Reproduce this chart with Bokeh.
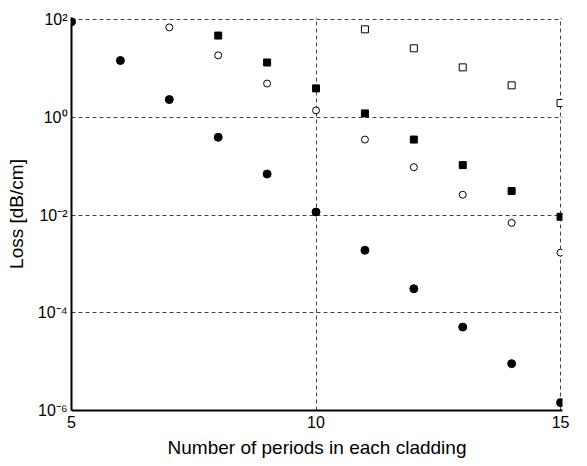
from bokeh.plotting import figure
from bokeh.models import FixedTicker
from bokeh.embed import file_html
from bokeh.resources import INLINE

# Data
periods_filled_circle = [5, 6, 7, 8, 9, 10, 11, 12, 13, 14, 15]
loss_filled_circle = [90, 14.5, 2.3, 0.39, 0.069, 0.0115, 0.0019, 3.1e-4, 5.1e-5, 9.1e-6, 1.45e-6]

periods_open_circle = [7, 8, 9, 10, 11, 12, 13, 14, 15]
loss_open_circle = [69, 18.5, 4.9, 1.38, 0.35, 0.095, 0.026, 0.0069, 0.0017]

periods_filled_square = [8, 9, 10, 11, 12, 13, 14, 15]
loss_filled_square = [47, 13.2, 3.9, 1.2, 0.35, 0.105, 0.031, 0.0092]

periods_open_square = [11, 12, 13, 14, 15]
loss_open_square = [63, 25.8, 10.5, 4.5, 1.95]

x_ticks = [5, 10, 15]
x_grid_ticks = [10, 15]
y_ticks = [1e-6, 1e-4, 1e-2, 1, 1e2]
y_grid_ticks = [1e-4, 1e-2, 1, 1e2]
y_tick_labels = {1e-6: "10\u207b\u2076", 1e-4: "10\u207b\u2074", 1e-2: "10\u207b\u00b2",
                 1: "10\u2070", 1e2: "10\u00b2"}

FONT = "Liberation Sans"

p = figure(width=571, height=460, y_axis_type="log",
           x_range=(5, 15.04), y_range=(1e-6, 1.1e2),
           output_backend="svg", toolbar_location=None,
           min_border_left=71, min_border_right=9,
           min_border_top=17, min_border_bottom=49)
p.outline_line_color = None
p.background_fill_color = "white"

p.xaxis.ticker = FixedTicker(ticks=x_ticks)
p.yaxis.ticker = FixedTicker(ticks=y_ticks)
p.yaxis.major_label_overrides = y_tick_labels

for ax in (p.xaxis[0], p.yaxis[0]):
    ax.axis_line_color = "black"
    ax.axis_line_width = 2
    ax.major_tick_line_color = None
    ax.minor_tick_line_color = None
    ax.major_tick_out = 0
    ax.major_tick_in = 0
    ax.minor_tick_out = 0
    ax.minor_tick_in = 0
    ax.major_label_text_font = FONT
    ax.major_label_text_font_size = "16px"
    ax.major_label_text_color = "black"
    ax.axis_label_text_font = FONT
    ax.axis_label_text_font_size = "19px"
    ax.axis_label_text_font_style = "normal"
    ax.axis_label_text_color = "black"

p.xaxis.axis_label = "Number of periods in each cladding"
p.yaxis.axis_label = "Loss [dB/cm]"
p.xaxis.major_label_standoff = 5
p.xaxis.axis_label_standoff = 6
p.yaxis.major_label_standoff = 4
p.yaxis.axis_label_standoff = 8

for g in (p.xgrid[0], p.ygrid[0]):
    g.grid_line_color = "#444444"
    g.grid_line_dash = "4 3"
    g.grid_line_width = 1
p.xgrid.ticker = FixedTicker(ticks=x_grid_ticks)
p.ygrid.ticker = FixedTicker(ticks=y_grid_ticks)

p.scatter(periods_filled_circle, loss_filled_circle, marker="circle", size=8,
          fill_color="black", line_color="black")
p.scatter(periods_open_circle, loss_open_circle, marker="circle", size=7,
          fill_color="white", line_color="black", line_width=1)
p.scatter(periods_filled_square, loss_filled_square, marker="square", size=7,
          fill_color="black", line_color="black")
p.scatter(periods_open_square, loss_open_square, marker="square", size=7,
          fill_color="white", line_color="black", line_width=1)

open("out.html", "w").write(file_html(p, INLINE))
